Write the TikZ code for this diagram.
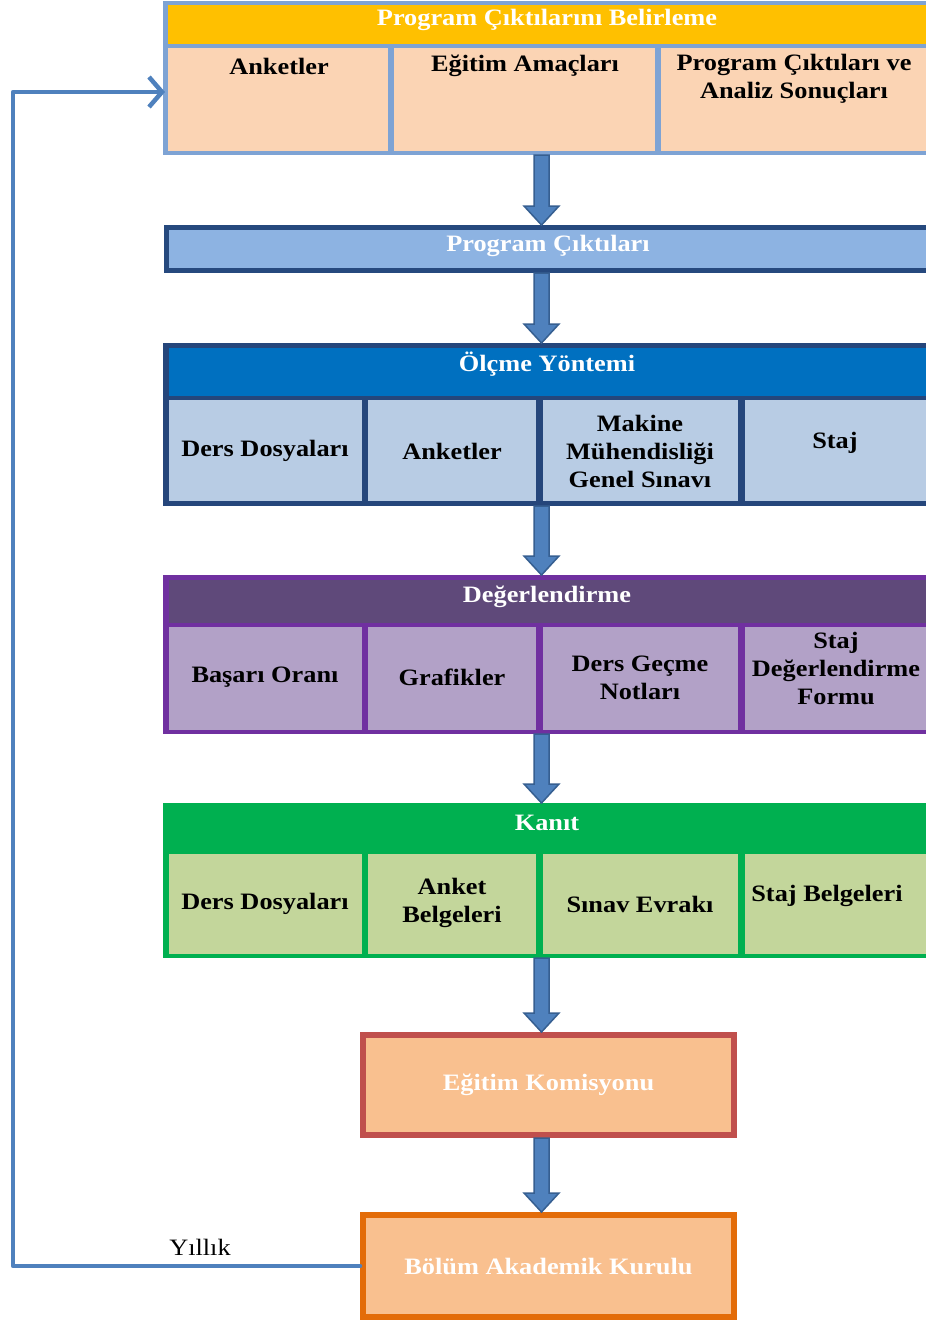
\documentclass[tikz,border=0pt]{standalone}
\usepackage{fontspec}
\setmainfont[FakeStretch=1.12]{Liberation Serif}
\usetikzlibrary{arrows.meta,calc}
\definecolor{bAline}{HTML}{7EA3D4}
\definecolor{bAhead}{HTML}{FFC000}
\definecolor{bAcell}{HTML}{FBD4B4}
\definecolor{bBline}{HTML}{26497E}
\definecolor{bBfill}{HTML}{8DB3E2}
\definecolor{bCline}{HTML}{25467B}
\definecolor{bChead}{HTML}{0070C0}
\definecolor{bCcell}{HTML}{B8CCE4}
\definecolor{bDline}{HTML}{7030A0}
\definecolor{bDhead}{HTML}{5F497A}
\definecolor{bDcell}{HTML}{B2A1C7}
\definecolor{bEline}{HTML}{00B050}
\definecolor{bEcell}{HTML}{C3D69B}
\definecolor{bFline}{HTML}{C0504D}
\definecolor{bGline}{HTML}{E36C09}
\definecolor{bFfill}{HTML}{F9C08F}
\definecolor{arrowfill}{HTML}{4F81BD}
\definecolor{arrowline}{HTML}{365F91}
\definecolor{fbline}{HTML}{4F81BD}
\newcommand{\blockarr}[2]{%
  \path[blockarrow] let \p1=(ax |- #1.south), \p2=(ax |- #2.north) in
    (\x1-7.5pt,\y1) -- (\x1+7.5pt,\y1) -- (\x1+7.5pt,\y2+19pt) -- (\x1+17.5pt,\y2+19pt)
    -- (\x2,\y2) -- (\x1-17.5pt,\y2+19pt) -- (\x1-7.5pt,\y2+19pt) -- cycle;}
\begin{document}
\begin{tikzpicture}[x=1pt,y=-1pt,
  rectbox/.style={draw=none,inner sep=0pt,outer sep=0pt,anchor=north west},
  lbl/.style={font=\bfseries\fontsize{23.5}{28}\selectfont,align=center,inner sep=0pt,text=black},
  hdr/.style={lbl,text=white},
  blockarrow/.style={fill=arrowfill,draw=arrowline,line width=1.5pt,line join=miter},
  bigbox/.style={line width=6pt,fill=bFfill,minimum width=371pt,inner sep=0pt,font=\bfseries\fontsize{23.5}{28}\selectfont,text=white},
  fb/.style={draw=fbline,line width=4.5pt,line cap=round,line join=round}]
\useasboundingbox (0,0) rectangle (926,1326);
\clip (0,0) rectangle (926,1326);
\fill[white] (0,0) rectangle (926,1326);
\coordinate (ax) at (541.5,0);

% Box 1
\node[rectbox,fill=bAline,minimum width=777pt,minimum height=154pt] (b1) at (163,1) {};
\node[rectbox,fill=bAhead,minimum width=772pt,minimum height=39pt] (h1) at (168,5) {};
\node[rectbox,fill=bAcell,minimum width=220pt,minimum height=103pt] (c11) at (168,48) {};
\node[rectbox,fill=bAcell,minimum width=261pt,minimum height=103pt] (c12) at (394,48) {};
\node[rectbox,fill=bAcell,minimum width=279pt,minimum height=103pt] (c13) at (661,48) {};
\node[hdr] (t10) at (547,20) {Program Çıktılarını Belirleme};
\node[lbl] (t11) at (279,66) {Anketler};
\node[lbl] (t12) at (525,66) {Eğitim Amaçları};
\node[lbl] (t13) at (794,79) {Program Çıktıları ve\\Analiz Sonuçları};

% Box 2
\node[rectbox,fill=bBline,minimum width=776pt,minimum height=48pt] (b2) at (164,225) {};
\node[rectbox,fill=bBfill,minimum width=771pt,minimum height=38pt] (i2) at (169,230) {};
\node[hdr] (t20) at (548,246) {Program Çıktıları};

% Box 3
\node[rectbox,fill=bCline,minimum width=777pt,minimum height=163pt] (b3) at (163,343) {};
\node[rectbox,fill=bChead,minimum width=771pt,minimum height=48pt] (h3) at (169,348) {};
\node[rectbox,fill=bCcell,minimum width=193pt,minimum height=101pt] (c31) at (169,400) {};
\node[rectbox,fill=bCcell,minimum width=168pt,minimum height=101pt] (c32) at (368,400) {};
\node[rectbox,fill=bCcell,minimum width=195pt,minimum height=101pt] (c33) at (543,400) {};
\node[rectbox,fill=bCcell,minimum width=195pt,minimum height=101pt] (c34) at (745,400) {};
\node[hdr] (t30) at (547,364) {Ölçme Yöntemi};
\node[lbl] (t31) at (265,451) {Ders Dosyaları};
\node[lbl] (t32) at (452,451) {Anketler};
\node[lbl] (t33) at (640,451) {Makine\\Mühendisliği\\Genel Sınavı};
\node[lbl] (t34) at (835,443) {Staj};

% Box 4
\node[rectbox,fill=bDline,minimum width=777pt,minimum height=159pt] (b4) at (163,575) {};
\node[rectbox,fill=bDhead,minimum width=771pt,minimum height=43pt] (h4) at (169,580) {};
\node[rectbox,fill=bDcell,minimum width=193pt,minimum height=103pt] (c41) at (169,627) {};
\node[rectbox,fill=bDcell,minimum width=168pt,minimum height=103pt] (c42) at (368,627) {};
\node[rectbox,fill=bDcell,minimum width=195pt,minimum height=103pt] (c43) at (543,627) {};
\node[rectbox,fill=bDcell,minimum width=195pt,minimum height=103pt] (c44) at (745,627) {};
\node[hdr] (t40) at (547,597) {Değerlendirme};
\node[lbl] (t41) at (265,677) {Başarı Oranı};
\node[lbl] (t42) at (452,677) {Grafikler};
\node[lbl] (t43) at (640,678) {Ders Geçme\\Notları};
\node[lbl] (t44) at (836,668) {Staj\\Değerlendirme\\Formu};

% Box 5
\node[rectbox,fill=bEline,minimum width=777pt,minimum height=155pt] (b5) at (163,803) {};
\node[rectbox,fill=bEline,minimum width=771pt,minimum height=43pt] (h5) at (169,807) {};
\node[rectbox,fill=bEcell,minimum width=193pt,minimum height=100pt] (c51) at (169,854) {};
\node[rectbox,fill=bEcell,minimum width=168pt,minimum height=100pt] (c52) at (368,854) {};
\node[rectbox,fill=bEcell,minimum width=195pt,minimum height=100pt] (c53) at (543,854) {};
\node[rectbox,fill=bEcell,minimum width=195pt,minimum height=100pt] (c54) at (745,854) {};
\node[hdr] (t50) at (547,823) {Kanıt};
\node[lbl] (t51) at (265,904) {Ders Dosyaları};
\node[lbl] (t52) at (452,903) {Anket\\Belgeleri};
\node[lbl] (t53) at (640,904) {Sınav Evrakı};
\node[lbl] (t54) at (827,896) {Staj Belgeleri};

% Box 6, 7
\node[bigbox,draw=bFline,minimum height=100pt] (b6) at (548.5,1085) {Eğitim Komisyonu};
\node[bigbox,draw=bGline,minimum height=102pt] (b7) at (548.5,1266) {Bölüm Akademik Kurulu};

% Arrows
\blockarr{b1}{b2}
\blockarr{b2}{b3}
\blockarr{b3}{b4}
\blockarr{b4}{b5}
\blockarr{b5}{b6}
\blockarr{b6}{b7}

% Feedback
\coordinate (fbl) at (13,92);
\coordinate (fbin) at (165,92);
\draw[fb,-{Straight Barb[length=13pt,width=30pt]}] (b7.west) -| (fbl) -- (fbin);
\node[font=\fontsize{23.5}{28}\selectfont,inner sep=0pt] (yl) at (200,1247) {Yıllık};
\end{tikzpicture}
\end{document}
